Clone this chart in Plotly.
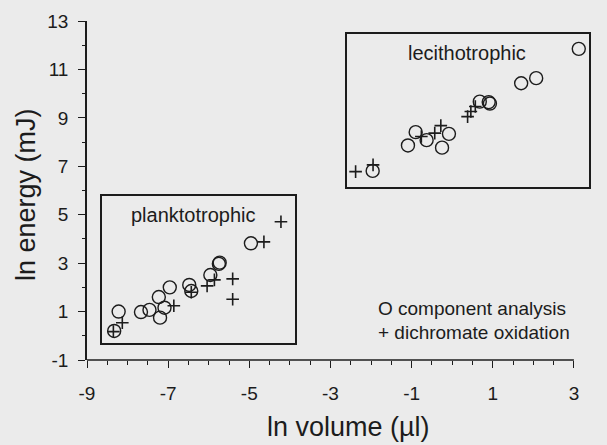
import plotly.graph_objects as go

# ---------------- data ----------------
plank_comp_x = [-4.96, -5.75, -5.73, -5.96, -6.48, -6.43, -6.96, -7.23, -7.09, -7.20, -7.46, -7.67, -8.22, -8.33]
plank_comp_y = [3.82, 2.97, 3.02, 2.51, 2.10, 1.85, 2.00, 1.60, 1.16, 0.75, 1.07, 0.98, 1.00, 0.20]
plank_dich_x = [-4.64, -4.22, -5.86, -6.04, -5.41, -5.41, -6.43, -6.86, -8.13, -8.35]
plank_dich_y = [3.88, 4.71, 2.31, 2.06, 2.35, 1.51, 1.80, 1.24, 0.54, 0.17]

lec_comp_x = [3.12, 2.07, 1.70, 0.90, 0.68, 0.93, -0.90, -0.63, -0.08, -0.25, -1.09, -1.96]
lec_comp_y = [11.85, 10.64, 10.43, 9.65, 9.67, 9.59, 8.41, 8.08, 8.34, 7.77, 7.86, 6.81]
lec_dich_x = [0.57, 0.46, 0.38, -0.76, -0.43, -0.28, -1.95, -2.38]
lec_dich_y = [9.47, 9.26, 9.05, 8.23, 8.37, 8.68, 7.06, 6.78]

x_axis_span = [-9, 3]
x_range = [-9, 3.15]
y_range = [-1, 13]
x_ticks = [-9, -7, -5, -3, -1, 1, 3]
y_ticks = [-1, 1, 3, 5, 7, 9, 11, 13]
x_tick_labels = ["-9", "-7", "-5", "-3", "-1", "1", "3"]
y_tick_labels = ["-1", "1", "3", "5", "7", "9", "11", "13"]

group_labels = ["planktotrophic", "lecithotrophic"]
legend_labels = ["component analysis", "dichromate oxidation"]
x_title = "ln volume (µl)"
y_title = "ln energy (mJ)"

# ---------------- figure ----------------
W, H = 607, 445
L, R, T, B = 87, 27, 21, 85
FONT = "Liberation Sans, Arial, sans-serif"
INK = "#1c1c1c"
BG = "#ebebeb"

def px_x(px):
    return (px - L) / (W - L - R)

def px_y(py):
    return (H - B - py) / (H - T - B)

fig = go.Figure()

circ = dict(symbol="circle-open", size=13, color=INK, line=dict(width=1.4, color=INK))
plus = dict(symbol="cross-thin-open", size=9, color=INK, line=dict(width=1.6, color=INK))

for xs, ys, m in [(plank_comp_x, plank_comp_y, circ), (lec_comp_x, lec_comp_y, circ),
                  (plank_dich_x, plank_dich_y, plus), (lec_dich_x, lec_dich_y, plus)]:
    fig.add_trace(go.Scatter(x=xs, y=ys, mode="markers", marker=m,
                             showlegend=False, cliponaxis=False, hoverinfo="x+y"))

# group boxes (pixel geometry -> paper coords)
for (x0, y0, x1, y1) in [(101, 195, 296, 344), (346, 33, 590, 188)]:
    fig.add_shape(type="rect", xref="paper", yref="paper",
                  x0=px_x(x0), x1=px_x(x1), y0=px_y(y1), y1=px_y(y0),
                  line=dict(color=INK, width=2), fillcolor="rgba(0,0,0,0)", layer="below")

# x axis line only over the labelled span
fig.add_shape(type="line", xref="x", yref="paper", x0=x_axis_span[0], x1=x_axis_span[1],
              y0=0, y1=0, line=dict(color=INK, width=1.5))

ann = []
ann.append(dict(text=group_labels[0], x=px_x(193), y=px_y(215)))
ann.append(dict(text=group_labels[1], x=px_x(467), y=px_y(53)))
for a in ann:
    a.update(xref="paper", yref="paper", showarrow=False, xanchor="center", yanchor="middle",
             font=dict(family=FONT, size=20, color=INK))

# legend as text
ann.append(dict(text="O " + legend_labels[0], x=px_x(376), y=px_y(308), xref="paper", yref="paper",
                showarrow=False, xanchor="left", yanchor="middle",
                font=dict(family=FONT, size=19, color=INK)))
ann.append(dict(text="+ " + legend_labels[1], x=px_x(376), y=px_y(332), xref="paper", yref="paper",
                showarrow=False, xanchor="left", yanchor="middle",
                font=dict(family=FONT, size=19, color=INK)))

# axis titles
ann.append(dict(text=x_title, x=px_x(348), y=px_y(427), xref="paper", yref="paper",
                showarrow=False, xanchor="center", yanchor="middle",
                font=dict(family=FONT, size=27, color=INK)))
ann.append(dict(text=y_title, x=px_x(26), y=px_y(195), xref="paper", yref="paper",
                showarrow=False, xanchor="center", yanchor="middle", textangle=-90,
                font=dict(family=FONT, size=27, color=INK)))

fig.update_layout(
    width=W, height=H,
    margin=dict(l=L, r=R, t=T, b=B, pad=0),
    paper_bgcolor=BG, plot_bgcolor=BG,
    showlegend=False,
    annotations=ann,
    font=dict(family=FONT, color=INK),
)

axis_common = dict(ticks="outside", tickcolor=INK, tickwidth=1.3, ticklen=7,
                   showgrid=False, zeroline=False,
                   tickfont=dict(family=FONT, size=19, color=INK), fixedrange=True)

fig.update_xaxes(range=x_range, tickmode="array", tickvals=x_ticks, ticktext=x_tick_labels,
                 ticklabelstandoff=9, showline=False,
                 minor=dict(dtick=0.5, tick0=-9, ticks="outside", ticklen=3.5, tickwidth=1.1,
                            tickcolor=INK, showgrid=False),
                 **axis_common)
fig.update_yaxes(range=y_range, tickmode="array", tickvals=y_ticks, ticktext=y_tick_labels,
                 ticklabelstandoff=6, showline=True, linecolor=INK, linewidth=1.5,
                 minor=dict(dtick=1, tick0=-1, ticks="outside", ticklen=3.5, tickwidth=1.1,
                            tickcolor=INK, showgrid=False),
                 **axis_common)

fig.write_html(
    "out.html",
    config={"displayModeBar": False},
    post_script=("document.body.style.margin='0px';"
                 "document.body.style.overflow='hidden';"
                 "document.body.style.background='%s';" % BG),
)
